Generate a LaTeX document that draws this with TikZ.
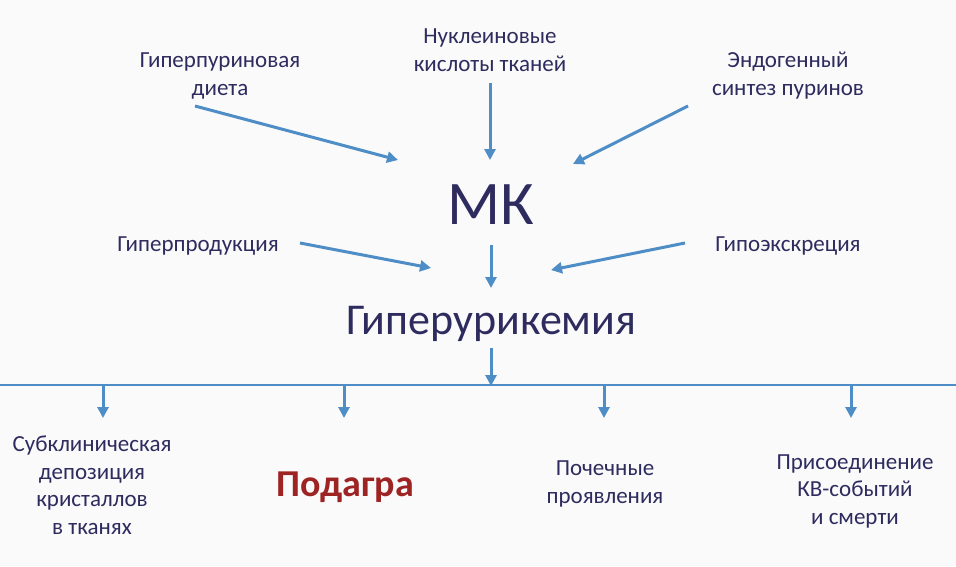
\documentclass[tikz,border=0pt]{standalone}
\usepackage{fontspec}
\setmainfont{Carlito}
\usetikzlibrary{arrows.meta}
\definecolor{txt}{HTML}{2E2B5E}
\definecolor{arr}{HTML}{4F8DC6}
\definecolor{red1}{HTML}{9E2424}
\definecolor{bg}{HTML}{FAFAFB}
\tikzset{
  lbl/.style={text=txt, align=center, font=\fontsize{23}{28}\selectfont, inner sep=0pt},
  blbl/.style={text=txt, align=center, font=\fontsize{23}{27.5}\selectfont, inner sep=0pt},
  arrline/.style={draw=arr, line width=3pt, -{Triangle[length=11pt,width=11pt]}},
  plainline/.style={draw=arr, line width=2.5pt}
}
\begin{document}
\begin{tikzpicture}[x=1pt,y=-1pt]
\fill[bg] (0,0) rectangle (956,566);
\useasboundingbox (0,0) rectangle (956,566);
% top labels
\node[lbl] (diet) at (220,76) {Гиперпуриновая\\диета};
\node[lbl] (nucl) at (490,50) {Нуклеиновые\\кислоты тканей};
\node[lbl] (endo) at (788,76) {Эндогенный\\синтез пуринов};
\node[text=txt, inner sep=0pt, font=\fontsize{62}{64}\selectfont] (mk) at (491,205) {МК};
\node[lbl] (hprod) at (198,246) {Гиперпродукция};
\node[lbl] (hexc) at (788,246) {Гипоэкскреция};
\node[text=txt, inner sep=0pt, font=\fontsize{44}{46}\selectfont] (hyper) at (491,324) {Гиперурикемия};
% bottom
\node[blbl] (sub) at (92,485) {Субклиническая\\депозиция\\кристаллов\\в тканях};
\node[text=red1, inner sep=0pt, font=\fontsize{38}{40}\selectfont\bfseries] (gout) at (345,487) {Подагра};
\node[blbl] (kid) at (605,484) {Почечные\\проявления};
\node[blbl] (cv) at (855,491) {Присоединение\\КВ-событий\\и смерти};
% coordinates
\coordinate (a1s) at (195,106); \coordinate (a1e) at (398,160);
\coordinate (a2s) at (490,83);  \coordinate (a2e) at (490,160);
\coordinate (a3s) at (688,106); \coordinate (a3e) at (573,164);
\coordinate (b1s) at (300,243); \coordinate (b1e) at (431,268);
\coordinate (b2s) at (491,245); \coordinate (b2e) at (491,288);
\coordinate (b3s) at (685,243); \coordinate (b3e) at (551,270);
\coordinate (c1s) at (491,348); \coordinate (c1e) at (491,386);
\coordinate (hl) at (0,385); \coordinate (hr) at (956,385);
\draw[arrline] (a1s) -- (a1e);
\draw[arrline] (a2s) -- (a2e);
\draw[arrline] (a3s) -- (a3e);
\draw[arrline] (b1s) -- (b1e);
\draw[arrline] (b2s) -- (b2e);
\draw[arrline] (b3s) -- (b3e);
\draw[arrline] (c1s) -- (c1e);
\draw[plainline] (hl) -- (hr);
\foreach \x/\n in {103/d1,344/d2,604/d3,851/d4}{
  \coordinate (\n s) at (\x,385);
  \coordinate (\n e) at (\x,418);
  \draw[arrline] (\n s) -- (\n e);
}
\end{tikzpicture}
\end{document}
